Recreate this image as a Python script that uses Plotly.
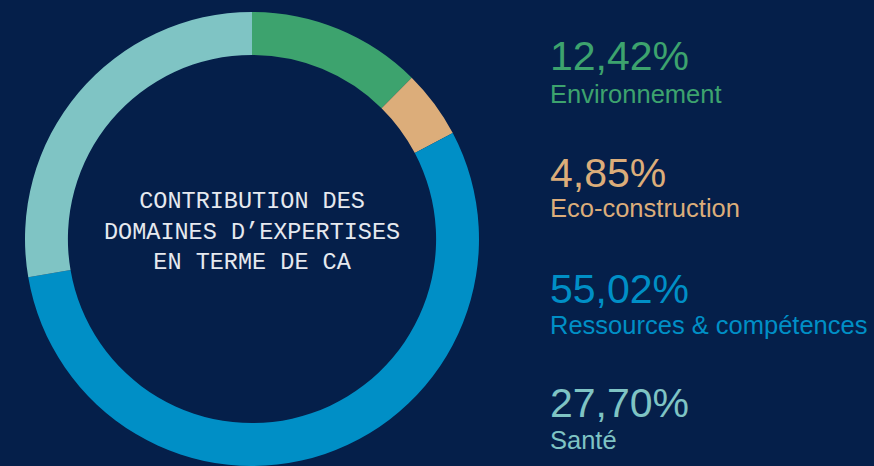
import plotly.graph_objects as go

# ---- data ----
labels = ["Environnement", "Eco-construction", "Ressources & compétences", "Santé"]
values = [12.42, 4.85, 55.02, 27.70]
title_lines = ["CONTRIBUTION DES", "DOMAINES D\u2019EXPERTISES", "EN TERME DE CA"]

# ---- styles ----
colors = ["#3DA36E", "#DCAD7A", "#008FC6", "#7FC4C4"]
bg = "#051F4A"
W, H = 874, 466

fig = go.Figure()
fig.add_trace(go.Pie(
    labels=labels,
    values=values,
    sort=False,
    direction="clockwise",
    rotation=0,
    hole=0.811,
    marker=dict(colors=colors, line=dict(width=0)),
    textinfo="none",
    hoverinfo="label+percent",
    showlegend=False,
    domain=dict(x=[0, 504 / W], y=[0, 1 - 12 / H]),
))

def px(x, y):
    return x / W, 1 - y / H

annotations = []
cx, cy = px(252, 231.5)
annotations.append(dict(
    x=cx, y=cy, xref="paper", yref="paper", xanchor="center", yanchor="middle",
    text="<br>".join(title_lines), showarrow=False, align="center",
    font=dict(family="Liberation Mono", size=23.5, color="#E6E9EF"),
))

num_mid = [56.5, 172.5, 289, 402.5]
lab_mid = [94, 208, 325, 440]
for i, (lab, v) in enumerate(zip(labels, values)):
    x, y = px(548, num_mid[i])
    annotations.append(dict(
        x=x, y=y, xref="paper", yref="paper", xanchor="left", yanchor="middle",
        text=f"{v:.2f}".replace(".", ",") + "%", showarrow=False,
        font=dict(family="Liberation Sans", size=41, color=colors[i]),
    ))
    x, y = px(548, lab_mid[i])
    annotations.append(dict(
        x=x, y=y, xref="paper", yref="paper", xanchor="left", yanchor="middle",
        text=lab, showarrow=False,
        font=dict(family="Liberation Sans", size=25.5, color=colors[i]),
    ))

fig.update_layout(
    width=W, height=H,
    margin=dict(l=0, r=0, t=0, b=0),
    paper_bgcolor=bg, plot_bgcolor=bg,
    annotations=annotations,
)

fig.write_html(
    "out.html",
    config={"displayModeBar": False},
    post_script="document.body.style.margin='0';document.body.style.padding='0';"
                "document.body.style.overflow='hidden';"
                "document.body.style.background='" + bg + "';",
)
